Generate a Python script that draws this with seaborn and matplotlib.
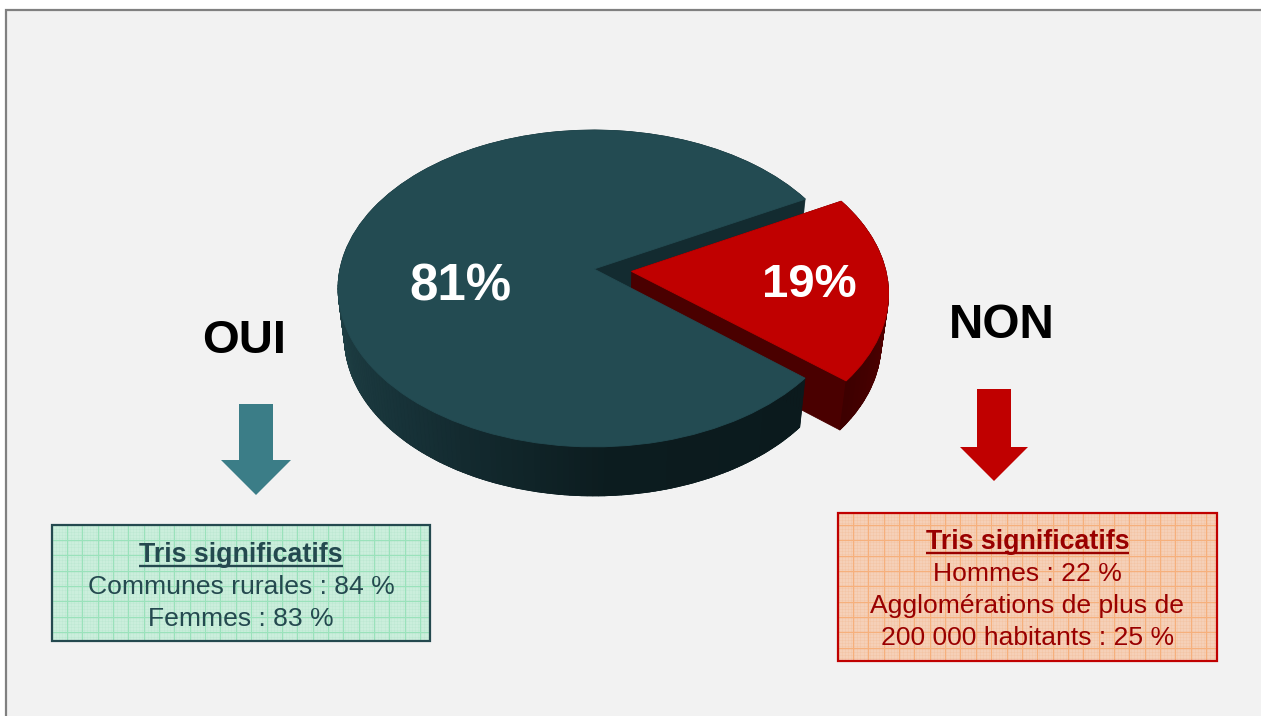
import numpy as np
import matplotlib
matplotlib.use('Agg')
import matplotlib.pyplot as plt
import seaborn as sns
from matplotlib.collections import PolyCollection
from matplotlib.patches import Rectangle
from matplotlib.transforms import Transform

# Chart values
pie_names = ['OUI', 'NON']
pie_shares = [81, 19]
pie_labels = ['81%', '19%']
left_title = 'Tris significatifs'
left_lines = ['Communes rurales : 84 %', 'Femmes : 83 %']
right_title = 'Tris significatifs'
right_lines = ['Hommes : 22 %', 'Agglomérations de plus de', '200 000 habitants : 25 %']

# Colours
PAGE = '#f2f2f2'
DARK_TOP = '#234b52'
DARK_CUT = '#132b30'
RED_TOP = '#c00000'
RED_CUT = '#4a0000'

sns.set_theme(style='white')
plt.rcParams['font.family'] = ['Liberation Sans', 'DejaVu Sans']

fig = plt.figure(figsize=(12.61, 7.16), dpi=100, facecolor='white')
ax = fig.add_axes([0, 0, 1, 1])

# Pie geometry: unit circle seen in perspective, in pixels
CX, CY, RX, RY, TILT = 594, 269, 254, 156, 0.123
DEPTH, SHRINK = 49, 0.025
START = 28.3
EXPLODE = (0, 0.148)


# Maps the flat unit pie to image pixels; level 0 is the top face, 1 the bottom
class TiltedPie(Transform):
    input_dims = 2
    output_dims = 2
    is_separable = False

    def __init__(self, level=0.0):
        super().__init__()
        self.level = level

    def transform_non_affine(self, values):
        values = np.asarray(values, dtype=float)
        w = 1 + TILT * values[:, 1]
        x = RX * values[:, 0] / w * (1 - SHRINK * self.level)
        y = -RY * values[:, 1] / w + DEPTH * self.level
        return np.column_stack([CX + x, CY + y])


# Draws one pie layer, keeping only the wanted slices
def pie_layer(level, colors, keep, zorder):
    wedges = ax.pie(pie_shares, explode=EXPLODE, startangle=START, labeldistance=None)[0]
    for wedge, color, wanted in zip(wedges, colors, keep):
        if not wanted:
            wedge.remove()
            continue
        wedge.set_transform(TiltedPie(level) + ax.transData)
        wedge.set(facecolor=color, edgecolor=color, linewidth=0.6, zorder=zorder)


# Draws the shaded outer wall of a slice as thin quads
def outer_wall(theta1, theta2, offset, palette, zorder):
    angles = np.radians(np.linspace(theta1, theta2, len(palette) + 1))
    ring = np.column_stack([np.cos(angles) + offset[0], np.sin(angles) + offset[1]])
    top = TiltedPie(0).transform(ring)
    bottom = TiltedPie(1).transform(ring)
    quads = [[top[i], top[i + 1], bottom[i + 1], bottom[i]] for i in range(len(palette))]
    ax.add_collection(PolyCollection(quads, facecolors=palette, edgecolors=palette,
                                     linewidths=0.6, zorder=zorder))


# Graph paper box with its text
def note_box(x0, y0, x1, y1, fill, line, fine, edge, text_color, title, lines, first_y, step, grid_x, grid_y):
    ax.add_patch(Rectangle((x0, y0), x1 - x0, y1 - y0, facecolor=fill, edgecolor='none', zorder=5))
    ax.vlines(np.arange(x0 + 1, x1, 3.07), y0, y1, color=fine, lw=0.5, alpha=0.2, zorder=5)
    ax.hlines(np.arange(y0 + 1, y1, 3.07), x0, x1, color=fine, lw=0.5, alpha=0.2, zorder=5)
    ax.vlines(np.arange(grid_x, x1, 15.35), y0, y1, color=line, lw=0.8, zorder=5)
    ax.hlines(np.arange(grid_y, y1, 15.35), x0, x1, color=line, lw=0.8, zorder=5)
    ax.add_patch(Rectangle((x0, y0), x1 - x0, y1 - y0, facecolor='none', edgecolor=edge, lw=1.6, zorder=6))
    center = (x0 + x1) / 2
    head = ax.text(center, first_y + 2, title, color=text_color, fontsize=19.3, fontweight='bold',
                   ha='center', va='center', zorder=7)
    fig.canvas.draw()
    box = head.get_window_extent()
    ax.hlines(first_y + 13, box.x0, box.x1, color=text_color, lw=1.7, zorder=7)
    for i, text in enumerate(lines):
        ax.text(center, first_y + 2 + (i + 1) * step, text, color=text_color, fontsize=19.05,
                ha='center', va='center', zorder=7)


# Block arrow pointing down
def down_arrow(cx, half_shaft, half_head, y0, y1, tip, color):
    ax.fill([cx - half_shaft, cx + half_shaft, cx + half_shaft, cx + half_head, cx,
             cx - half_head, cx - half_shaft],
            [y0, y0, y1, y1, tip, y1, y1], color=color, lw=0, zorder=5)


# Walls first, then the shaded front, then both top faces
for level in np.linspace(1, 0, 50):
    pie_layer(level, [DARK_CUT, RED_CUT], [True, False], 1)
for level in np.linspace(1, 0, 50):
    pie_layer(level, [DARK_CUT, RED_CUT], [False, True], 2)

end_dark = START + 360 * pie_shares[0] / sum(pie_shares)
mid_red = np.radians(end_dark + 180 * pie_shares[1] / sum(pie_shares))
red_offset = (EXPLODE[1] * np.cos(mid_red), EXPLODE[1] * np.sin(mid_red))
outer_wall(end_dark, 360 + START, red_offset, sns.blend_palette(['#3e0000', '#520000', '#6a0000'], 30), 2.5)
outer_wall(180, end_dark, (0, 0), sns.blend_palette(['#214449', '#173238', '#0c1c1f', '#0b1a1d'], 120), 3)
pie_layer(0, [DARK_TOP, RED_TOP], [True, True], 4)

ax.set_xlim(0, 1261)
ax.set_ylim(716, 0)
ax.set_axis_off()

# Slide panel
ax.add_patch(Rectangle((6, 10), 1300, 800, facecolor=PAGE, edgecolor='#808080', lw=1.6, zorder=0))

# Percent labels on the slices
ax.text(460, 287, pie_labels[0], color='white', fontsize=36.7, fontweight='bold', ha='center', va='center', zorder=8)
ax.text(809, 285, pie_labels[1], color='white', fontsize=34, fontweight='bold', ha='center', va='center', zorder=8)

# Answers and arrows
ax.text(244, 341, pie_names[0], color='black', fontsize=34, fontweight='bold', ha='center', va='center', zorder=8)
ax.text(1002, 325, pie_names[1], color='black', fontsize=34.3, fontweight='bold', ha='center', va='center', zorder=8)
down_arrow(256, 17, 35, 404, 460, 495, '#3b7d87')
down_arrow(994, 17, 34, 389, 447, 481, RED_TOP)

note_box(52, 525, 430, 641, '#cbeedc', '#9ae2bb', '#9fdcbc', '#24494f', '#24494f',
         left_title, left_lines, 553, 32, 67, 540)
note_box(838, 513, 1217, 661, '#f5d0b8', '#f6b07c', '#f0a878', '#c00000', '#990000',
         right_title, right_lines, 540, 32, 853, 525)

fig.savefig('out.png', dpi=100, facecolor='white')
